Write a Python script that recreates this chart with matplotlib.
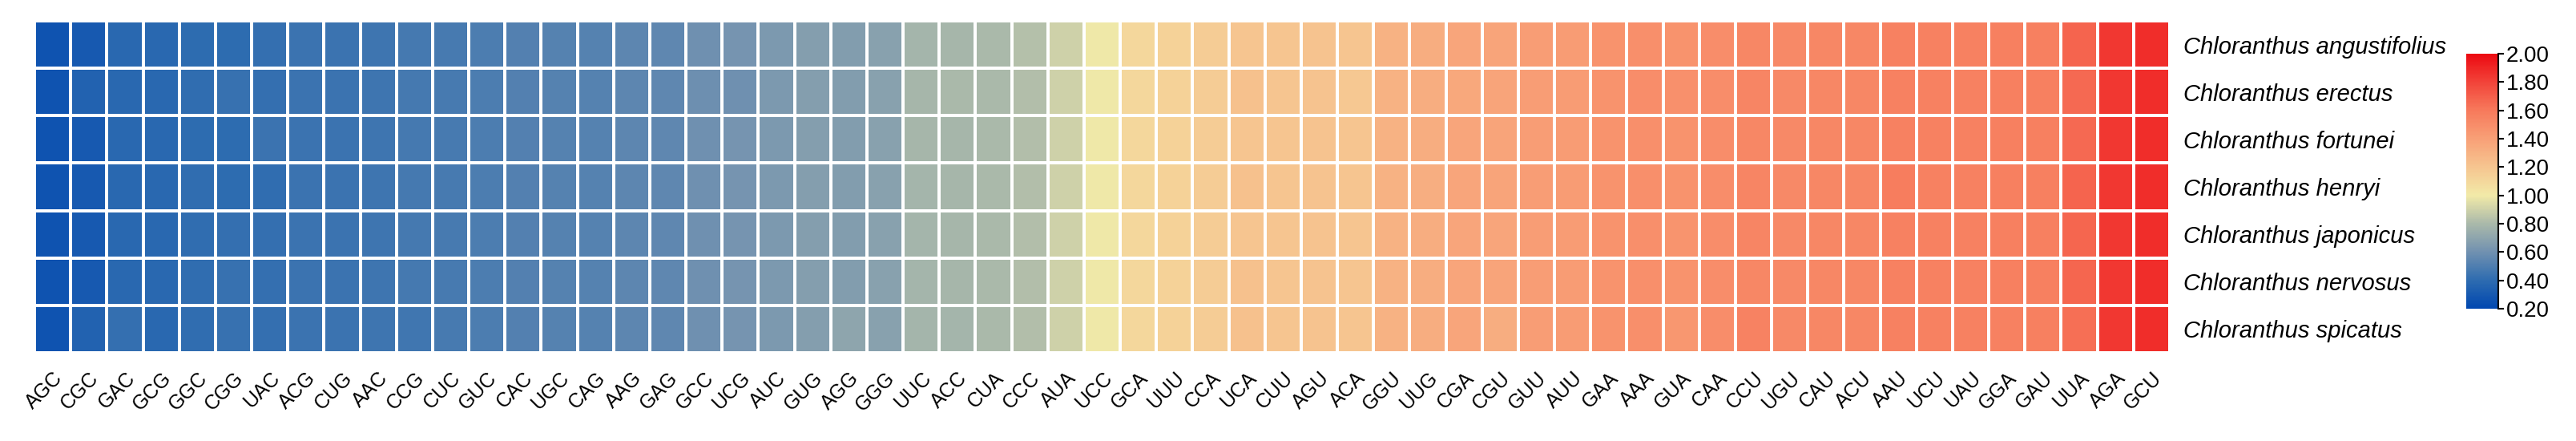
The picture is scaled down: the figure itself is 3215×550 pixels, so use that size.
import numpy as np
import matplotlib
matplotlib.use('Agg')
import matplotlib.pyplot as plt
from matplotlib.colors import LinearSegmentedColormap

plt.rcParams['font.family'] = ['Liberation Sans', 'DejaVu Sans']

codons = ['AGC', 'CGC', 'GAC', 'GCG', 'GGC', 'CGG', 'UAC', 'ACG', 'CUG', 'AAC',
          'CCG', 'CUC', 'GUC', 'CAC', 'UGC', 'CAG', 'AAG', 'GAG', 'GCC', 'UCG',
          'AUC', 'GUG', 'AGG', 'GGG', 'UUC', 'ACC', 'CUA', 'CCC', 'AUA', 'UCC',
          'GCA', 'UUU', 'CCA', 'UCA', 'CUU', 'AGU', 'ACA', 'GGU', 'UUG', 'CGA',
          'CGU', 'GUU', 'AUU', 'GAA', 'AAA', 'GUA', 'CAA', 'CCU', 'UGU', 'CAU',
          'ACU', 'AAU', 'UCU', 'UAU', 'GGA', 'GAU', 'UUA', 'AGA', 'GCU']

species = ['Chloranthus angustifolius', 'Chloranthus erectus', 'Chloranthus fortunei',
           'Chloranthus henryi', 'Chloranthus japonicus', 'Chloranthus nervosus',
           'Chloranthus spicatus']

# RSCU values (one list per species)
angustifolius = [0.27, 0.30, 0.38, 0.38, 0.40, 0.40, 0.42, 0.44, 0.44, 0.45,
                 0.47, 0.48, 0.49, 0.51, 0.52, 0.52, 0.54, 0.55, 0.60, 0.62,
                 0.64, 0.67, 0.66, 0.68, 0.78, 0.79, 0.80, 0.83, 0.90, 0.99,
                 1.10, 1.13, 1.16, 1.20, 1.20, 1.21, 1.20, 1.30, 1.33, 1.37,
                 1.38, 1.41, 1.42, 1.47, 1.49, 1.47, 1.50, 1.53, 1.52, 1.53,
                 1.53, 1.56, 1.56, 1.56, 1.57, 1.57, 1.68, 1.84, 1.88]
erectus = [0.27, 0.35, 0.38, 0.38, 0.41, 0.43, 0.42, 0.44, 0.44, 0.45,
           0.47, 0.48, 0.49, 0.51, 0.52, 0.52, 0.54, 0.55, 0.59, 0.60,
           0.64, 0.67, 0.66, 0.68, 0.79, 0.80, 0.80, 0.82, 0.90, 0.99,
           1.10, 1.13, 1.16, 1.22, 1.20, 1.21, 1.18, 1.30, 1.33, 1.36,
           1.38, 1.41, 1.42, 1.47, 1.50, 1.48, 1.50, 1.54, 1.52, 1.53,
           1.53, 1.56, 1.56, 1.56, 1.57, 1.57, 1.66, 1.84, 1.88]
fortunei = [0.27, 0.30, 0.38, 0.38, 0.40, 0.40, 0.44, 0.44, 0.44, 0.45,
            0.47, 0.48, 0.49, 0.51, 0.52, 0.52, 0.54, 0.55, 0.60, 0.62,
            0.64, 0.67, 0.66, 0.68, 0.79, 0.79, 0.80, 0.82, 0.90, 0.99,
            1.10, 1.13, 1.16, 1.20, 1.20, 1.21, 1.20, 1.30, 1.33, 1.37,
            1.38, 1.41, 1.42, 1.47, 1.49, 1.47, 1.50, 1.53, 1.52, 1.53,
            1.53, 1.56, 1.56, 1.56, 1.57, 1.57, 1.66, 1.84, 1.88]
henryi = [0.27, 0.30, 0.38, 0.38, 0.41, 0.40, 0.41, 0.44, 0.44, 0.45,
          0.47, 0.48, 0.49, 0.51, 0.52, 0.52, 0.54, 0.55, 0.60, 0.62,
          0.64, 0.67, 0.66, 0.68, 0.78, 0.79, 0.80, 0.82, 0.90, 0.99,
          1.10, 1.13, 1.16, 1.22, 1.20, 1.21, 1.20, 1.30, 1.32, 1.37,
          1.38, 1.41, 1.42, 1.47, 1.49, 1.47, 1.50, 1.54, 1.52, 1.53,
          1.53, 1.58, 1.56, 1.56, 1.57, 1.57, 1.68, 1.84, 1.88]
japonicus = [0.27, 0.30, 0.38, 0.38, 0.41, 0.42, 0.42, 0.44, 0.44, 0.45,
             0.47, 0.48, 0.49, 0.51, 0.52, 0.52, 0.54, 0.55, 0.60, 0.62,
             0.64, 0.67, 0.66, 0.68, 0.78, 0.79, 0.80, 0.82, 0.90, 0.99,
             1.10, 1.13, 1.16, 1.20, 1.20, 1.21, 1.20, 1.30, 1.33, 1.37,
             1.37, 1.41, 1.42, 1.47, 1.49, 1.46, 1.50, 1.54, 1.52, 1.53,
             1.53, 1.56, 1.56, 1.56, 1.57, 1.57, 1.67, 1.84, 1.88]
nervosus = [0.27, 0.30, 0.38, 0.38, 0.41, 0.43, 0.42, 0.44, 0.44, 0.45,
            0.47, 0.48, 0.49, 0.51, 0.52, 0.52, 0.54, 0.55, 0.60, 0.62,
            0.64, 0.67, 0.66, 0.68, 0.78, 0.79, 0.80, 0.82, 0.90, 0.99,
            1.10, 1.13, 1.16, 1.22, 1.20, 1.21, 1.20, 1.30, 1.33, 1.37,
            1.38, 1.41, 1.42, 1.47, 1.49, 1.47, 1.50, 1.53, 1.52, 1.53,
            1.53, 1.56, 1.56, 1.56, 1.57, 1.57, 1.67, 1.84, 1.88]
spicatus = [0.27, 0.35, 0.42, 0.38, 0.41, 0.43, 0.42, 0.44, 0.44, 0.45,
            0.46, 0.48, 0.49, 0.51, 0.52, 0.52, 0.54, 0.55, 0.60, 0.62,
            0.64, 0.67, 0.70, 0.68, 0.78, 0.78, 0.80, 0.82, 0.90, 0.99,
            1.10, 1.13, 1.16, 1.22, 1.20, 1.21, 1.20, 1.30, 1.33, 1.37,
            1.33, 1.41, 1.42, 1.47, 1.49, 1.45, 1.50, 1.55, 1.52, 1.53,
            1.53, 1.56, 1.56, 1.56, 1.56, 1.57, 1.64, 1.84, 1.88]

values = np.array([angustifolius, erectus, fortunei, henryi,
                   japonicus, nervosus, spicatus])

cmap = LinearSegmentedColormap.from_list('rscu', [
    (0.0, '#0047b0'), (1/9, '#2e6cb0'), (2/9, '#7191b0'), (3/9, '#aab9aa'),
    (4/9, '#f2eaa8'), (5/9, '#f6c590'), (6/9, '#f8a077'), (7/9, '#f77a5c'),
    (8/9, '#f2443a'), (1.0, '#ec0a12')])

fig = plt.figure(figsize=(32.15, 5.5), dpi=100)
ax = fig.add_axes([0.0134, 0.2, 0.8289, 0.7527])
mesh = ax.pcolormesh(values, cmap=cmap, vmin=0.2, vmax=2.0,
                     edgecolors='white', linewidth=1.5)
ax.set_xlim(0, values.shape[1])
ax.set_ylim(values.shape[0], 0)
for s in ax.spines.values():
    s.set_visible(False)

ax.set_xticks(np.arange(len(codons)) + 0.5)
ax.set_xticklabels(codons, rotation=45, ha='right', va='top',
                   rotation_mode='anchor', fontsize=18)
ax.set_yticks(np.arange(len(species)) + 0.5)
ax.set_yticklabels(species, fontsize=21, style='italic')
ax.yaxis.tick_right()
ax.tick_params(axis='both', length=0)
ax.tick_params(axis='x', pad=14)
ax.tick_params(axis='y', pad=12)

cax = fig.add_axes([0.9574, 0.30, 0.0124, 0.578])
cb = fig.colorbar(mesh, cax=cax, ticks=np.arange(0.2, 2.01, 0.2), format='%.2f')
cb.outline.set_visible(False)
cax.spines['right'].set_visible(True)
cax.spines['right'].set_linewidth(1.5)
cax.tick_params(labelsize=20, length=5, width=1.5, pad=2)

fig.savefig('out.png', dpi=100)
